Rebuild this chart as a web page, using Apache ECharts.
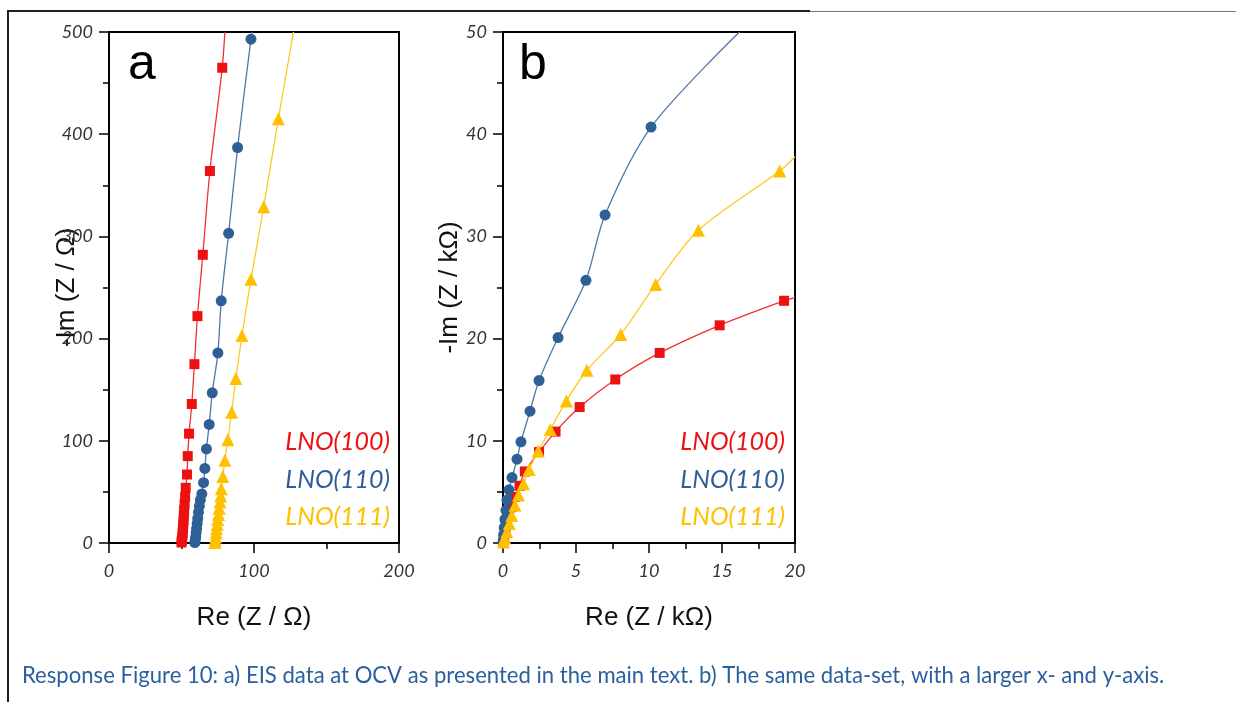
<!DOCTYPE html>
<html>
<head>
<meta charset="utf-8">
<script src="https://cdn.jsdelivr.net/npm/echarts@6/dist/echarts.min.js"></script>
<style>
html,body{margin:0;padding:0;background:#fff;}
#chart{width:1236px;height:702px;}
</style>
</head>
<body>
<div id="chart"></div>
<script>
// ---------- DATA ----------
const seriesNames = ['LNO(100)', 'LNO(110)', 'LNO(111)'];

// Panel a (Ohm): [Re, -Im]
const a100 = [[50.0,0.5],[50.2,2],[50.4,4],[50.6,7],[50.8,10],[51.0,14],[51.2,18],[51.4,22],[51.6,27],[51.8,32],[52.1,38],[52.5,45],[52.9,54],[53.8,67],[54.3,85],[55.2,107],[57.1,136],[58.9,175],[61.0,222],[64.7,282],[69.6,364],[78.1,465]];
const a100FitEnd = [[79.9,500]];
const a110 = [[59.2,0.5],[59.5,3],[59.8,6],[60.1,10],[60.4,14],[60.8,19],[61.2,24],[61.7,30],[62.3,36],[63.0,42],[64.0,48],[65.2,59],[66.1,73],[67.2,92],[69.1,116],[71.2,147],[75.1,186],[77.4,237],[82.5,303],[88.7,387],[97.9,493]];
const a110FitEnd = [[98.8,500]];
const a111 = [[73.0,0.5],[73.3,3],[73.6,6],[73.9,10],[74.2,14],[74.6,18],[75.0,23],[75.5,28],[76.0,34],[76.6,40],[77.0,46],[77.4,53],[78.5,65],[79.9,81],[82.0,101],[84.6,128],[87.5,161],[91.7,203],[97.9,258],[106.7,329],[116.8,415]];
const a111FitEnd = [[127.2,500]];

// Panel b (kOhm): [Re, -Im]
const b100 = [[0.02,0.1],[0.08,0.5],[0.16,1.1],[0.27,1.8],[0.4,2.6],[0.57,3.5],[0.8,4.5],[1.13,5.6],[1.5,7.0],[2.47,8.9],[3.6,10.9],[5.25,13.3],[7.69,16.0],[10.73,18.6],[14.84,21.3],[19.25,23.7]];
const b100FitEnd = [[20,24.0]];
const b110 = [[0.01,0.2],[0.04,0.8],[0.08,1.5],[0.13,2.3],[0.2,3.2],[0.27,4.2],[0.41,5.2],[0.62,6.4],[0.96,8.2],[1.23,9.9],[1.85,12.9],[2.47,15.9],[3.77,20.1],[5.68,25.7],[6.99,32.1],[10.14,40.7]];
const b110FitEnd = [[16.2,50]];
const b111 = [[0.03,0.1],[0.12,0.5],[0.26,1.1],[0.43,1.9],[0.6,2.7],[0.82,3.7],[1.06,4.7],[1.4,5.8],[1.79,7.2],[2.41,9.0],[3.24,11.1],[4.34,13.9],[5.75,16.9],[8.06,20.4],[10.46,25.3],[13.38,30.6],[18.95,36.4]];
const b111FitEnd = [[20,37.8]];

// Axes
const aXTicks = [0, 100, 200];
const aYTicks = [0, 100, 200, 300, 400, 500];
const bXTicks = [0, 5, 10, 15, 20];
const bYTicks = [0, 10, 20, 30, 40, 50];
const axisNames = {
  ax: 'Re (Z / Ω)', ay: '-Im (Z / Ω)',
  bx: 'Re (Z / kΩ)', by: '-Im (Z / kΩ)'
};
const panelLabels = ['a', 'b'];
const caption = 'Response Figure 10: a) EIS data at OCV as presented in the main text. b) The same data-set, with a larger x- and y-axis.';

// ---------- STYLE ----------
const colors = ['#ee1111', '#2e5f97', '#ffc000'];
const lineColors = ['#f03030', '#4d77aa', '#ffc820'];
const symbols = ['rect', 'circle', 'triangle'];
const symbolSizes = [10, 11, 13];
const tickFont = {fontFamily: 'Lato', fontStyle: 'italic', fontSize: 18, color: '#333'};
const nameFont = {fontFamily: 'Liberation Sans', fontSize: 26, color: '#111'};

function mkData(pts, fit) {
  return pts.map(p => ({value: p})).concat(fit.map(p => ({value: p, symbol: 'none'})));
}
function mkSeries(i, idx, pts, fit) {
  return {
    name: seriesNames[i], type: 'line', xAxisIndex: idx, yAxisIndex: idx,
    data: mkData(pts, fit), smooth: 0.3,
    symbol: symbols[i], symbolSize: symbolSizes[i], showSymbol: true,
    lineStyle: {color: lineColors[i], width: 1.3},
    itemStyle: {color: colors[i]},
    clip: true, animation: false, z: 2 + i
  };
}
function xAxis(idx, max, interval, name) {
  return {
    type: 'value', gridIndex: idx, min: 0, max: max, interval: interval,
    name: name, nameLocation: 'middle', nameGap: 62, nameMoveOverlap: false, nameTextStyle: nameFont,
    axisLine: {show: true, onZero: false, lineStyle: {color: '#000', width: 2}},
    axisTick: {show: true, length: 10, lineStyle: {color: '#000', width: 1.5}},
    minorTick: {show: true, splitNumber: 2, length: 6, lineStyle: {color: '#000', width: 1.5}},
    axisLabel: Object.assign({margin: 19}, tickFont),
    splitLine: {show: false}
  };
}
function yAxis(idx, max, interval, name, gap) {
  return {
    type: 'value', gridIndex: idx, min: 0, max: max, interval: interval,
    name: name, nameLocation: 'middle', nameGap: gap, nameMoveOverlap: false, nameTextStyle: nameFont,
    axisLine: {show: true, onZero: false, lineStyle: {color: '#000', width: 2}},
    axisTick: {show: true, length: 10, lineStyle: {color: '#000', width: 1.5}},
    minorTick: {show: true, splitNumber: 2, length: 6, lineStyle: {color: '#000', width: 1.5}},
    axisLabel: Object.assign({margin: 16}, tickFont),
    splitLine: {show: false}
  };
}

const legendY = [442, 480, 517];
const graphics = [
  {type: 'line', shape: {x1: 8, y1: 11, x2: 810, y2: 11}, style: {stroke: '#222', lineWidth: 2}},
  {type: 'line', shape: {x1: 810, y1: 11.5, x2: 1236, y2: 11.5}, style: {stroke: '#777', lineWidth: 1}},
  {type: 'line', shape: {x1: 8, y1: 10, x2: 8, y2: 702}, style: {stroke: '#222', lineWidth: 2}},
  {type: 'text', left: 128, top: 40, style: {text: panelLabels[0], fontFamily: 'Liberation Sans', fontSize: 50, fill: '#000'}},
  {type: 'text', left: 519, top: 40, style: {text: panelLabels[1], fontFamily: 'Liberation Sans', fontSize: 50, fill: '#000'}},
  {type: 'text', left: 22, top: 665, style: {text: caption, fontFamily: 'Lato', fontSize: 22.1, fill: '#2b5f9e'}}
];
[390, 785].forEach(rx => {
  seriesNames.forEach((n, i) => {
    graphics.push({type: 'text', x: rx, y: legendY[i], style: {text: n, fontFamily: 'Lato', fontStyle: 'italic', fontSize: 25, fill: colors[i], textAlign: 'right', textVerticalAlign: 'middle'}});
  });
});

const chart = echarts.init(document.getElementById('chart'), null, {renderer: 'canvas'});
chart.setOption({
  backgroundColor: '#fff',
  animation: false,
  grid: [
    {left: 109, top: 32, width: 290, height: 511, show: true, borderColor: '#000', borderWidth: 2, backgroundColor: 'transparent'},
    {left: 503, top: 32, width: 292, height: 511, show: true, borderColor: '#000', borderWidth: 2, backgroundColor: 'transparent'}
  ],
  xAxis: [
    xAxis(0, aXTicks[aXTicks.length - 1], aXTicks[1] - aXTicks[0], axisNames.ax),
    xAxis(1, bXTicks[bXTicks.length - 1], bXTicks[1] - bXTicks[0], axisNames.bx)
  ],
  yAxis: [
    yAxis(0, aYTicks[aYTicks.length - 1], aYTicks[1] - aYTicks[0], axisNames.ay, 29),
    yAxis(1, bYTicks[bYTicks.length - 1], bYTicks[1] - bYTicks[0], axisNames.by, 40)
  ],
  series: [
    mkSeries(0, 0, a100, a100FitEnd),
    mkSeries(1, 0, a110, a110FitEnd),
    mkSeries(2, 0, a111, a111FitEnd),
    mkSeries(0, 1, b100, b100FitEnd),
    mkSeries(1, 1, b110, b110FitEnd),
    mkSeries(2, 1, b111, b111FitEnd)
  ],
  graphic: graphics
});
</script>
</body>
</html>
